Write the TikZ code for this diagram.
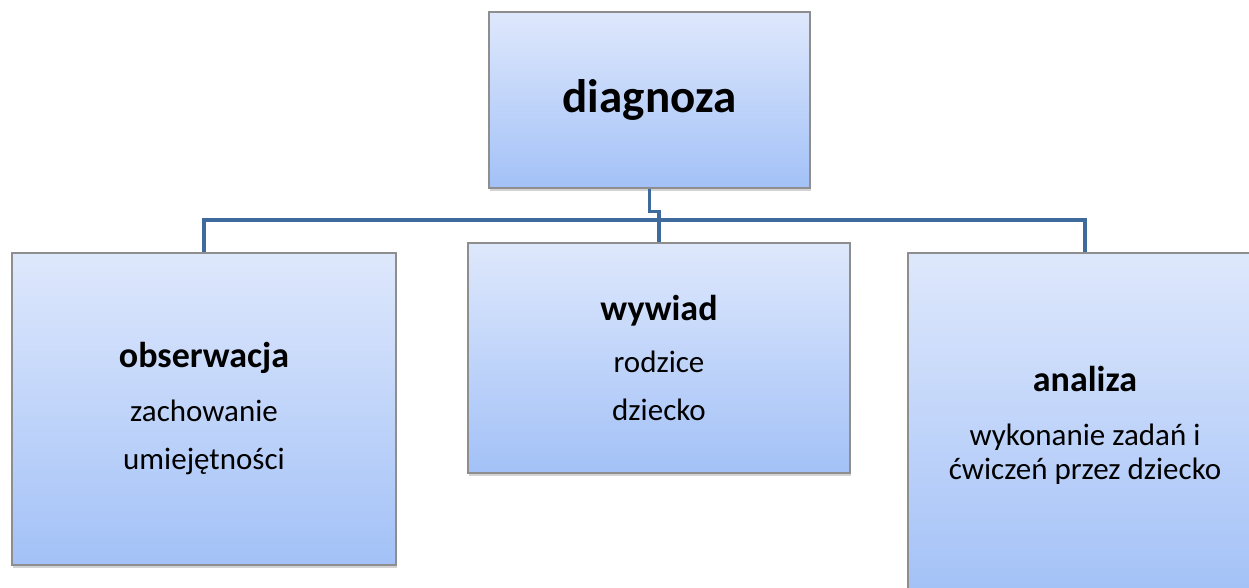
\documentclass[tikz,border=0pt]{standalone}
\usepackage{fontspec}
\setmainfont{Carlito}
\usepackage{xcolor}
\usetikzlibrary{positioning,shadows,calc}
\definecolor{boxtop}{HTML}{DEE8FC}
\definecolor{boxbottom}{HTML}{A3C1F7}
\definecolor{boxline}{HTML}{8E8E8E}
\definecolor{linkblue}{HTML}{3F6A9C}
\begin{document}
\begin{tikzpicture}[x=1pt, y=-1pt,
    box/.style={draw=boxline, line width=1.1pt, top color=boxtop, bottom color=boxbottom,
        drop shadow={shadow xshift=0.6pt, shadow yshift=-2.5pt, opacity=0.35},
        align=center, inner sep=0pt, font=\fontsize{31}{34}\selectfont},
    head/.style={font=\bfseries\fontsize{36}{40}\selectfont},
    link/.style={draw=linkblue, line width=3.6pt}]
                            \clip (0,0) rectangle (1249,587);
                            \node (diagnoza) [box, minimum width=321pt, minimum height=176pt] at (649.5,100) {\bfseries\fontsize{47}{52}\selectfont diagnoza};
                            \node (obserwacja) [box, minimum width=384pt, minimum height=312pt] at (204,409) {{\bfseries\fontsize{36}{40}\selectfont obserwacja}\\[20pt] zachowanie\\[14pt] umiejętności};
                            \node (wywiad) [box, minimum width=382pt, minimum height=230pt] at (659,358) {{\bfseries\fontsize{36}{40}\selectfont wywiad}\\[18pt] rodzice\\[14pt] dziecko};
                            \node (analiza) [box, minimum width=354pt, minimum height=344pt] at (1085,425) {{\bfseries\fontsize{36}{40}\selectfont analiza}\\[20pt] wykonanie zadań i\\ ćwiczeń przez dziecko};
                            \coordinate (bus) at (0,220);
                            \draw [link] (obserwacja.north) |- ($(bus -| analiza.north)$) -- (analiza.north);
                            \draw [link] (wywiad.north) -- (wywiad.north |- bus);
                            \draw [link] (diagnoza.south) -- ++(0,23) -| (wywiad.north |- bus);
                        \end{tikzpicture}
\end{document}
